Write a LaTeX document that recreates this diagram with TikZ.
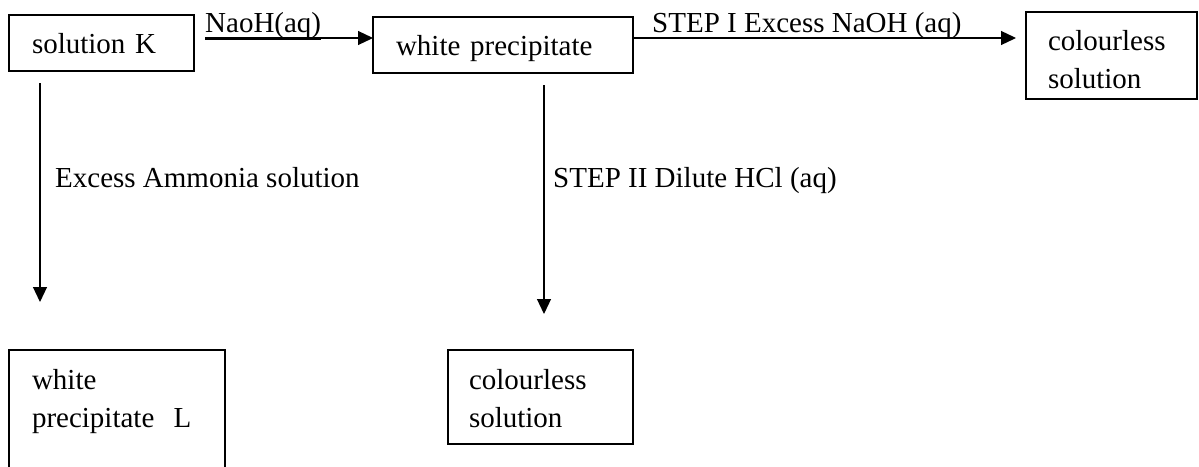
\documentclass[tikz,border=0pt]{standalone}
\usepackage{fontspec}
\setmainfont{Liberation Serif}
\usetikzlibrary{arrows.meta}
\begin{document}
\begin{tikzpicture}[x=1pt,y=-1pt,
  box/.style={draw, line width=1.2pt, anchor=north west, inner ysep=0pt, outer sep=0pt, align=left, font=\fontsize{29}{38}\selectfont},
  lab/.style={anchor=base west, inner sep=0pt, font=\fontsize{29}{38}\selectfont},
  arr/.style={line width=1.2pt, -{Triangle[length=15pt,width=14pt]}}]
\useasboundingbox (0,0) rectangle (1199,466);
\clip (0,0) rectangle (1199,466);
% boxes
\node[box, inner xsep=23pt, text width=139pt, text height=38pt, text depth=18pt] (K) at (9,15) {solution K};
\node[box, inner xsep=23pt, text width=214pt, text height=38pt, text depth=18pt] (W) at (373,17) {white precipitate};
\node[box, inner xsep=22pt, text width=127pt, text height=38pt, text depth=49pt] (C1) at (1026,12) {colourless\\solution};
\node[box, inner xsep=23pt, text width=170pt, text height=39pt, text depth=86pt] (L) at (9,350) {white\\precipitate\ \ L};
\node[box, inner xsep=21pt, text width=143pt, text height=39pt, text depth=55pt] (C2) at (448,350) {colourless\\solution};
% labels
\node[lab] (l1) at (205,32) {\underline{NaoH(aq)}};
\node[lab] (l2) at (652,32) {STEP I Excess NaOH (aq)};
\node[lab] (l3) at (55,187) {Excess Ammonia solution};
\node[lab] (l4) at (553,187) {STEP II Dilute HCl (aq)};
% connectors
\draw[arr, shorten <=11pt] ([yshift=5pt]K.east) -- ([yshift=5pt]K.east -| W.west);
\draw[arr, shorten >=10pt] ([yshift=7pt]W.east) -- ([yshift=7pt]W.east -| C1.west);
\draw[arr, shorten <=12pt, shorten >=48pt] ([xshift=31pt]K.south west) -- ([xshift=31pt]L.north west);
\draw[arr, shorten <=12pt, shorten >=36pt] ([xshift=171pt]W.south west) -- ([xshift=96pt]C2.north west);
\end{tikzpicture}
\end{document}
